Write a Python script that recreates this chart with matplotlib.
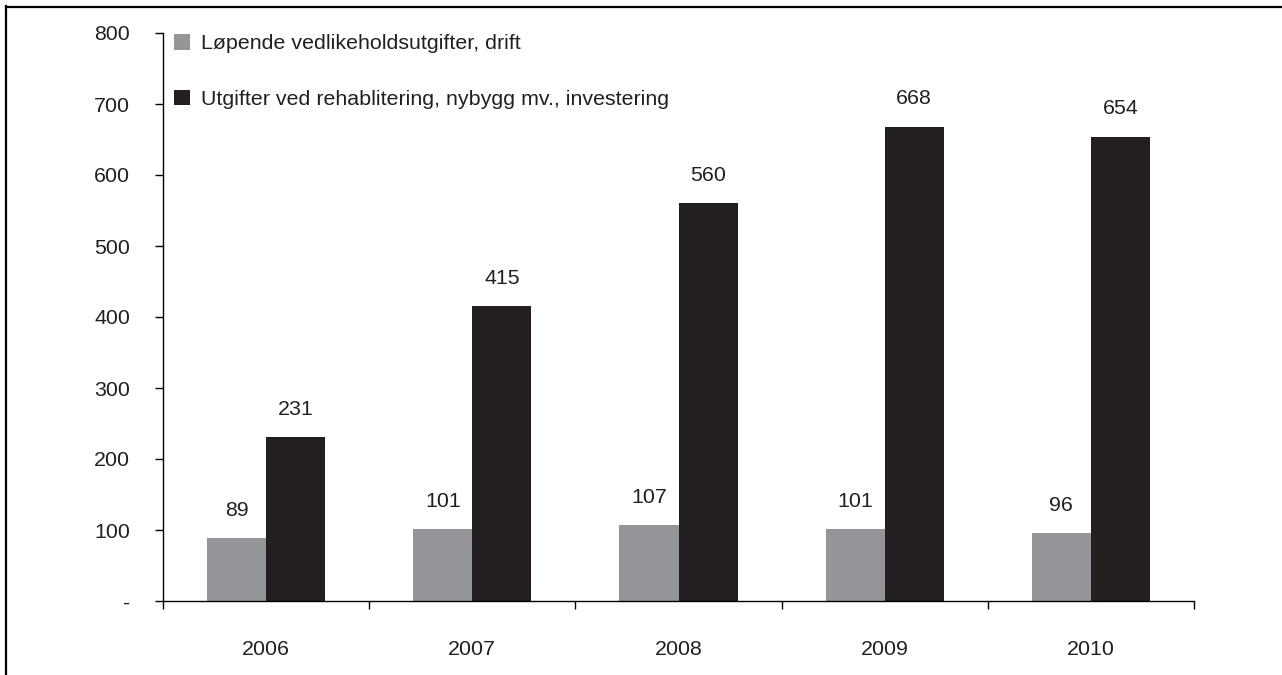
import matplotlib.pyplot as plt
from matplotlib.lines import Line2D
import numpy as np

plt.rcParams['font.family'] = ['Liberation Sans', 'DejaVu Sans']
plt.rcParams['font.size'] = 15.4

# Data
years = ["2006", "2007", "2008", "2009", "2010"]
drift = [89, 101, 107, 101, 96]
investering = [231, 415, 560, 668, 654]
labels = ["Løpende vedlikeholdsutgifter, drift",
          "Utgifter ved rehablitering, nybygg mv., investering"]

GRAY = "#939598"
BLACK = "#231f20"

fig = plt.figure(figsize=(12.82, 6.75), dpi=100)
ax = fig.add_axes([163 / 1282, 74 / 675, (1194 - 163) / 1282, (601 - 33) / 675])

x = np.arange(len(years))
w = 59 / 206
b1 = ax.bar(x - w / 2, drift, w, color=GRAY, label=labels[0])
b2 = ax.bar(x + w / 2, investering, w, color=BLACK, label=labels[1])

for bars, vals in ((b1, drift), (b2, investering)):
    for r, v in zip(bars, vals):
        ax.annotate(str(v), (r.get_x() + r.get_width() / 2, v),
                    xytext=(0, 20), textcoords="offset points",
                    ha="center", va="center", color="#231f20")

ax.set_xlim(-0.5, len(years) - 0.5)
ax.set_ylim(0, 800)

ax.set_yticks(np.arange(0, 801, 100))
ax.set_yticklabels(["-"] + [str(v) for v in range(100, 801, 100)])
ax.tick_params(axis="y", length=5.8, width=1, pad=18, colors="black", labelcolor="#231f20")

ax.set_xticks(x)
ax.set_xticklabels(years)
ax.set_xticks(np.arange(-0.5, len(years), 1), minor=True)
ax.tick_params(axis="x", which="major", length=0, pad=28, labelcolor="#231f20")
ax.tick_params(axis="x", which="minor", length=5.8, width=1, direction="out")

for s in ("top", "right"):
    ax.spines[s].set_visible(False)
for s in ("left", "bottom"):
    ax.spines[s].set_linewidth(1)
    ax.spines[s].set_color("black")

leg = ax.legend(loc="upper left", bbox_to_anchor=(174 / 1282, 1 - 34 / 675),
                bbox_transform=fig.transFigure, frameon=False,
                handlelength=0.75, handleheight=0.75, handletextpad=0.5,
                labelspacing=1.7, borderpad=0, borderaxespad=0)
for t in leg.get_texts():
    t.set_color("#231f20")

# outer frame (left and top edges only)
fig.add_artist(Line2D([6 / 1282, 6 / 1282], [0, 1 - 6 / 675], transform=fig.transFigure,
                      color="black", linewidth=1.6))
fig.add_artist(Line2D([6 / 1282, 1], [1 - 6.5 / 675, 1 - 6.5 / 675], transform=fig.transFigure,
                      color="black", linewidth=1.6))

fig.savefig("out.png", dpi=100)
